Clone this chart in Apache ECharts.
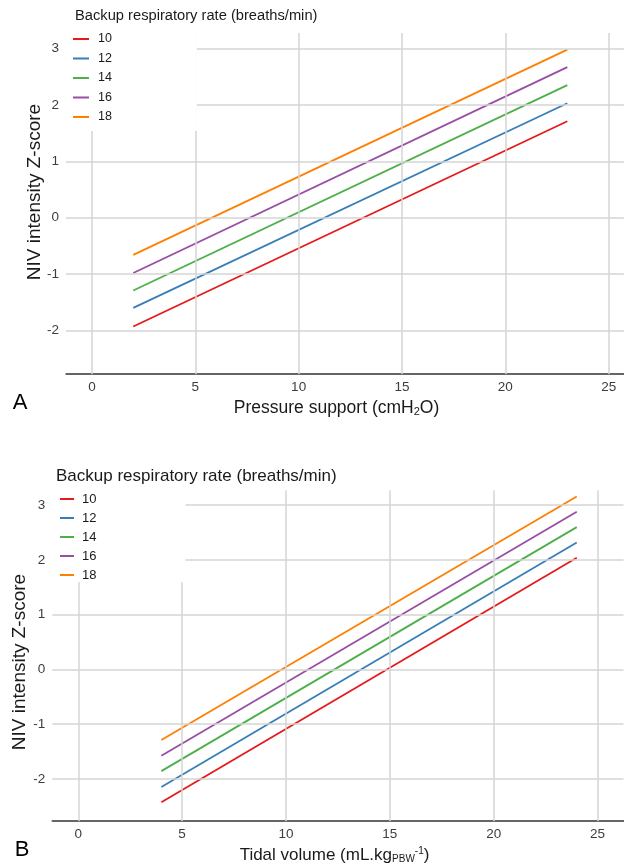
<!DOCTYPE html>
<html>
<head>
<meta charset="utf-8">
<script src="https://cdn.jsdelivr.net/npm/echarts@6/dist/echarts.min.js"></script>
<style>
html,body{margin:0;padding:0;background:#fff;}
#chart{width:624px;height:865px;}
</style>
</head>
<body>
<div id="chart"></div>
<script>
// ---- data ----
const rates = ['10', '12', '14', '16', '18'];
const colors = ['#E41A1C', '#377EB8', '#4DAF4A', '#984EA3', '#FF7F00'];
// Panel A: pressure support (cmH2O)
const psX = [2, 23];
const psStart = [-1.93, -1.60, -1.29, -0.98, -0.66];
const psEnd = [1.71, 2.03, 2.35, 2.67, 2.98];
// Panel B: tidal volume (mL/kg PBW)
const tvX = [4, 24];
const tvStart = [-2.43, -2.15, -1.86, -1.58, -1.29];
const tvEnd = [2.04, 2.32, 2.60, 2.88, 3.16];
// axis ticks (labelled values / grid lines)
const xTicks = [0, 5, 10, 15, 20, 25];
const yTicks = [-2, -1, 0, 1, 2, 3];

const FONT = '"Liberation Sans", Arial, Helvetica, sans-serif';
const GRIDC = '#d4d4d4';
const TICKC = '#3d3d3d';

function isTick(list, v) {
  const r = Math.round(v * 1000) / 1000;
  return list.some(t => Math.abs(t - r) < 1e-6);
}

function xAxisOpt(gridIndex) {
  return {
    type: 'value', gridIndex, min: -1.25, max: 26.25, interval: 1.25,
    axisLine: { show: true, onZero: false, lineStyle: { color: '#333', width: 1.6 } },
    axisTick: { show: false },
    axisLabel: {
      margin: 6, color: TICKC, fontSize: 13.5, fontFamily: FONT, hideOverlap: false,
      formatter: v => (isTick(xTicks, v) ? String(Math.round(v)) : '')
    },
    splitLine: { show: false }
  };
}
function yAxisOpt(gridIndex) {
  return {
    type: 'value', gridIndex, min: -2.775, max: 3.275, interval: 0.025,
    axisLine: { show: false, onZero: false }, axisTick: { show: false },
    axisLabel: {
      margin: 7, color: TICKC, fontSize: 13.5, fontFamily: FONT, hideOverlap: false,
      formatter: v => (isTick(yTicks, v) ? String(Math.round(v)) : '')
    },
    splitLine: { show: false }
  };
}

function gridSeries(idx) {
  return {
    name: 'grid' + idx, type: 'line', xAxisIndex: idx, yAxisIndex: idx,
    data: [], z: 1, silent: true, animation: false,
    markLine: {
      silent: true, symbol: 'none', animation: false,
      label: { show: false },
      lineStyle: { color: GRIDC, width: 1.5, type: 'solid' },
      emphasis: { disabled: true },
      data: xTicks.map(v => ({ xAxis: v })).concat(yTicks.map(v => ({ yAxis: v })))
    }
  };
}

const series = [gridSeries(0), gridSeries(1)];
rates.forEach((r, i) => {
  series.push({
    name: r, type: 'line', xAxisIndex: 0, yAxisIndex: 0,
    data: [[psX[0], psStart[i]], [psX[1], psEnd[i]]],
    showSymbol: false, symbol: 'none', color: colors[i], z: 3,
    lineStyle: { width: 1.8, color: colors[i] }, animation: false
  });
});
rates.forEach((r, i) => {
  series.push({
    name: r, type: 'line', xAxisIndex: 1, yAxisIndex: 1,
    data: [[tvX[0], tvStart[i]], [tvX[1], tvEnd[i]]],
    showSymbol: false, symbol: 'none', color: colors[i], z: 3,
    lineStyle: { width: 1.8, color: colors[i] }, animation: false
  });
});

const chart = echarts.init(document.getElementById('chart'), null, { renderer: 'canvas' });
chart.setOption({
  animation: false,
  backgroundColor: '#fff',
  textStyle: { fontFamily: FONT },
  grid: [
    { left: 66.1, top: 33.0, width: 568.4, height: 341.2, containLabel: false, outerBoundsMode: 'none' },
    { left: 52.3, top: 490.2, width: 571.2, height: 331.0, containLabel: false, outerBoundsMode: 'none' }
  ],
  xAxis: [xAxisOpt(0), xAxisOpt(1)],
  yAxis: [yAxisOpt(0), yAxisOpt(1)],
  legend: [
    {
      data: rates, orient: 'vertical', left: 62, top: 29, z: 10,
      padding: [2, 85, 6, 11], itemGap: 3.5,
      itemWidth: 16, itemHeight: 2, icon: 'rect',
      backgroundColor: '#fff', selectedMode: false,
      textStyle: { fontSize: 12.5, color: '#1a1a1a', lineHeight: 16, padding: [0, 0, 0, 4], fontFamily: FONT }
    },
    {
      data: rates, orient: 'vertical', left: 50, top: 490, z: 10,
      padding: [2, 89, 0, 10], itemGap: 5,
      itemWidth: 14, itemHeight: 2, icon: 'rect',
      backgroundColor: '#fff', selectedMode: false,
      textStyle: { fontSize: 13, color: '#1a1a1a', lineHeight: 14, padding: [0, 0, 0, 3], fontFamily: FONT }
    }
  ],
  graphic: [
    { type: 'text', left: 75, top: 8, style: { text: 'Backup respiratory rate (breaths/min)', fontSize: 14.7, fill: '#1a1a1a', fontFamily: FONT } },
    { type: 'text', left: 56, top: 468, style: { text: 'Backup respiratory rate (breaths/min)', fontSize: 17, fill: '#1a1a1a', fontFamily: FONT } },
    { type: 'text', x: 20, y: 403, style: { text: 'A', fontSize: 22, fill: '#000', fontFamily: FONT, align: 'center', verticalAlign: 'middle' } },
    { type: 'text', x: 22, y: 850, style: { text: 'B', fontSize: 22, fill: '#000', fontFamily: FONT, align: 'center', verticalAlign: 'middle' } },
    { type: 'text', x: 336.5, y: 408, style: {
        text: 'Pressure support (cmH{sub|2}O)', fontSize: 17.5, fill: '#1a1a1a', fontFamily: FONT,
        align: 'center', verticalAlign: 'middle',
        rich: { sub: { fontSize: 11, fontFamily: FONT, fill: '#1a1a1a', verticalAlign: 'bottom', padding: [8, 0, 0, 0] } }
      } },
    { type: 'text', x: 334.5, y: 855, style: {
        text: 'Tidal volume (mL.kg{sub|PBW}{sup|-1})', fontSize: 17, fill: '#1a1a1a', fontFamily: FONT,
        align: 'center', verticalAlign: 'middle',
        rich: {
          sub: { fontSize: 10, fontFamily: FONT, fill: '#1a1a1a', verticalAlign: 'bottom', padding: [8, 0, 0, 0] },
          sup: { fontSize: 10, fontFamily: FONT, fill: '#1a1a1a', verticalAlign: 'top', padding: [0, 0, 8, 0] }
        }
      } },
    { type: 'text', x: 35, y: 192, rotation: Math.PI / 2, style: { text: 'NIV intensity Z-score', fontSize: 19, fill: '#1a1a1a', fontFamily: FONT, align: 'center', verticalAlign: 'middle' } },
    { type: 'text', x: 20, y: 662, rotation: Math.PI / 2, style: { text: 'NIV intensity Z-score', fontSize: 19, fill: '#1a1a1a', fontFamily: FONT, align: 'center', verticalAlign: 'middle' } }
  ],
  series
});
</script>
</body>
</html>
